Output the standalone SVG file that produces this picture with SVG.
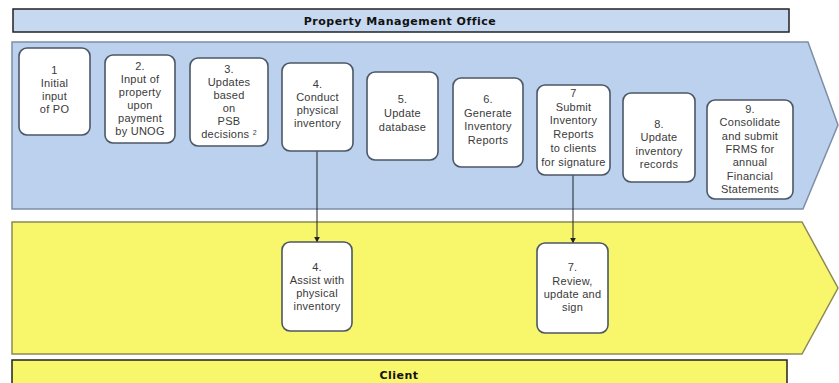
<svg xmlns="http://www.w3.org/2000/svg" width="839" height="383" viewBox="0 0 839 383">
<defs>
<style>
.hdr{stroke:#222;stroke-width:1.5}
.ht{font-family:"DejaVu Sans",sans-serif;font-weight:bold;font-size:11px;letter-spacing:0.5px;fill:#111;text-anchor:middle}
.box{fill:#fff;stroke:#4b5766;stroke-width:1.6}
.bt{font-family:"Liberation Sans",Arial,sans-serif;font-size:11px;letter-spacing:0.25px;fill:#3a3a3a;text-anchor:middle}
.con{stroke:#222;stroke-width:1;fill:none}
</style>
<marker id="ah" viewBox="0 0 10 10" refX="9" refY="5" markerWidth="6" markerHeight="6" orient="auto" markerUnits="userSpaceOnUse">
<path d="M0,0 L10,5 L0,10 z" fill="#222"/>
</marker>
</defs>
<rect width="839" height="383" fill="#fff"/>
<g id="header-pmo">
<rect class="hdr" x="13" y="9" width="776" height="23" fill="#c6d9f1"/>
<text class="ht" x="400" y="25">Property Management Office</text>
</g>
<g id="lane-pmo">
<path d="M12,42 L808,42 L838,125 L803,209 L12,209 Z" fill="#bcd1ee" stroke="#7d8ea6" stroke-width="1.5"/>
</g>
<g id="lane-client">
<path d="M12,222 L802,222 L838,288 L802,354 L12,354 Z" fill="#f8f66a" stroke="#8c8a55" stroke-width="1.5"/>
</g>
<g id="header-client">
<rect class="hdr" x="12" y="360" width="775" height="30" fill="#f8f66a"/>
<text class="ht" x="399" y="379">Client</text>
</g>
<g id="connectors">
<line class="con" x1="317" y1="151" x2="317" y2="242" marker-end="url(#ah)"/>
<line class="con" x1="573" y1="175" x2="573" y2="243" marker-end="url(#ah)"/>
</g>
<g id="n1">
<rect class="box" x="19" y="48" width="71" height="87" rx="8"/>
<text class="bt" x="54.5" y="74">1</text>
<text class="bt" x="54.5" y="87">Initial</text>
<text class="bt" x="54.5" y="100">input</text>
<text class="bt" x="54.5" y="113">of PO</text>
</g>
<g id="n2">
<rect class="box" x="105" y="55" width="70" height="88" rx="8"/>
<text class="bt" x="140" y="70">2.</text>
<text class="bt" x="140" y="83">Input of</text>
<text class="bt" x="140" y="96">property</text>
<text class="bt" x="140" y="109">upon</text>
<text class="bt" x="140" y="122">payment</text>
<text class="bt" x="140" y="135">by UNOG</text>
</g>
<g id="n3">
<rect class="box" x="190" y="58" width="78" height="88" rx="8"/>
<text class="bt" x="229" y="73">3.</text>
<text class="bt" x="229" y="86">Updates</text>
<text class="bt" x="229" y="99">based</text>
<text class="bt" x="229" y="112">on</text>
<text class="bt" x="229" y="125">PSB</text>
<text class="bt" x="229" y="138">decisions <tspan font-size="7" dy="-3">2</tspan></text>
</g>
<g id="n4">
<rect class="box" x="282" y="63" width="71" height="88" rx="8"/>
<text class="bt" x="317.5" y="88">4.</text>
<text class="bt" x="317.5" y="101">Conduct</text>
<text class="bt" x="317.5" y="114">physical</text>
<text class="bt" x="317.5" y="127">inventory</text>
</g>
<g id="n5">
<rect class="box" x="367" y="72" width="71" height="88" rx="8"/>
<text class="bt" x="402.5" y="103">5.</text>
<text class="bt" x="402.5" y="117">Update</text>
<text class="bt" x="402.5" y="131">database</text>
</g>
<g id="n6">
<rect class="box" x="453" y="78" width="70" height="89" rx="8"/>
<text class="bt" x="488" y="103">6.</text>
<text class="bt" x="488" y="117">Generate</text>
<text class="bt" x="488" y="130">Inventory</text>
<text class="bt" x="488" y="144">Reports</text>
</g>
<g id="n7">
<rect class="box" x="537" y="85" width="73" height="90" rx="8"/>
<text class="bt" x="573.5" y="97">7</text>
<text class="bt" x="573.5" y="111">Submit</text>
<text class="bt" x="573.5" y="124">Inventory</text>
<text class="bt" x="573.5" y="138">Reports</text>
<text class="bt" x="573.5" y="152">to clients</text>
<text class="bt" x="573.5" y="166">for signature</text>
</g>
<g id="n8">
<rect class="box" x="623" y="93" width="72" height="89" rx="8"/>
<text class="bt" x="659" y="128">8.</text>
<text class="bt" x="659" y="141">Update</text>
<text class="bt" x="659" y="155">inventory</text>
<text class="bt" x="659" y="168">records</text>
</g>
<g id="n9">
<rect class="box" x="707" y="100" width="86" height="99" rx="8"/>
<text class="bt" x="750" y="113">9.</text>
<text class="bt" x="750" y="126">Consolidate</text>
<text class="bt" x="750" y="140">and submit</text>
<text class="bt" x="750" y="153">FRMS for</text>
<text class="bt" x="750" y="166">annual</text>
<text class="bt" x="750" y="180">Financial</text>
<text class="bt" x="750" y="193">Statements</text>
</g>
<g id="c4">
<rect class="box" x="282" y="242" width="70" height="89" rx="8"/>
<text class="bt" x="317" y="271">4.</text>
<text class="bt" x="317" y="284">Assist with</text>
<text class="bt" x="317" y="297">physical</text>
<text class="bt" x="317" y="310">inventory</text>
</g>
<g id="c7">
<rect class="box" x="537" y="243" width="71" height="90" rx="8"/>
<text class="bt" x="572.5" y="271">7.</text>
<text class="bt" x="572.5" y="285">Review,</text>
<text class="bt" x="572.5" y="298">update and</text>
<text class="bt" x="572.5" y="311">sign</text>
</g>
</svg>
